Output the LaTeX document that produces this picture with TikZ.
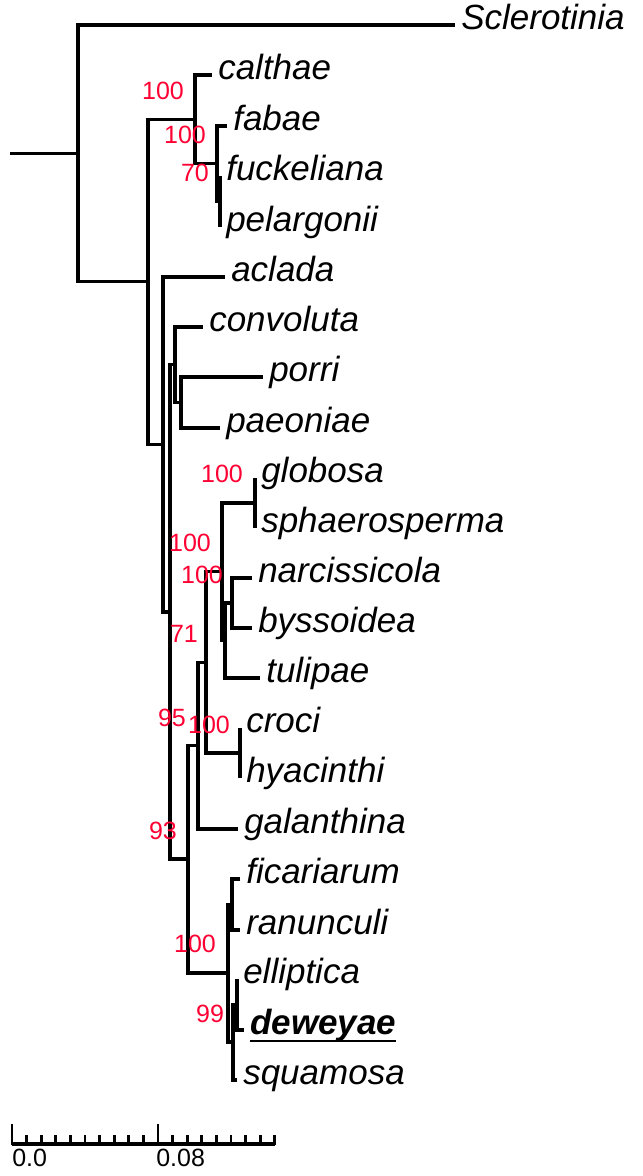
\documentclass[tikz,border=0pt]{standalone}
\usepackage{fontspec}
\setmainfont{Liberation Sans}
\definecolor{bsred}{RGB}{255,0,51}
\newcommand\tipfont{\fontsize{26.25}{30}\selectfont\itshape}
\newcommand\bsfont{\fontsize{18.75}{22}\selectfont}
\newcommand\myul[1]{\sbox0{#1}\rlap{\rule[-5.6pt]{\wd0}{1.8pt}}\usebox0}
\begin{document}
\begin{tikzpicture}[x=0.75pt,y=-0.75pt,
  br/.style={line width=2.4pt},
  tip/.style={anchor=west,font=\tipfont,inner xsep=4.5pt,inner ysep=0pt,text height=0.7em,text depth=0pt},
  bs/.style={text=bsred,font=\bsfont,inner sep=0pt,text height=0.72em,text depth=0pt},
  sc/.style={font=\bsfont,inner sep=0pt,text height=0.72em,text depth=0pt,anchor=west}]
\useasboundingbox (0,0) rectangle (642,1176);
% internal nodes
\coordinate (stub) at (10,153.5);
\coordinate (R) at (78,153.5);
\coordinate (Bot) at (148,281.9);
\coordinate (CA) at (195,119.4);
\coordinate (FA) at (217,163.8);
\coordinate (FP) at (220,201.5);
\coordinate (A) at (163,444.4);
\coordinate (B) at (170,611.9);
\coordinate (C) at (175,364.7);
\coordinate (D) at (181,402.5);
\coordinate (E) at (188,859);
\coordinate (F) at (198,745.7);
\coordinate (G) at (206,662.4);
\coordinate (H) at (222,571.8);
\coordinate (GS) at (255,503);
\coordinate (I) at (225,640.5);
\coordinate (J) at (232,603);
\coordinate (CH) at (240,753);
\coordinate (K) at (228,973);
\coordinate (L) at (232,904.5);
\coordinate (M) at (233,1042);
\coordinate (N) at (237,1004.5);
% tips
\node[tip] (Sclerotinia) at (455,25) {Sclerotinia};
\node[tip] (calthae) at (212,75) {calthae};
\node[tip] (fabae) at (227,126) {fabae};
\node[tip] (fuckeliana) at (220,176) {fuckeliana};
\node[tip] (pelargonii) at (220,227) {pelargonii};
\node[tip] (aclada) at (225,277) {aclada};
\node[tip] (convoluta) at (203,327) {convoluta};
\node[tip] (porri) at (263,377) {porri};
\node[tip] (paeoniae) at (220,428) {paeoniae};
\node[tip] (globosa) at (255,478) {globosa};
\node[tip] (sphaerosperma) at (255,528) {sphaerosperma};
\node[tip] (narcissicola) at (252,578) {narcissicola};
\node[tip] (byssoidea) at (252,628) {byssoidea};
\node[tip] (tulipae) at (260,678) {tulipae};
\node[tip] (croci) at (240,728) {croci};
\node[tip] (hyacinthi) at (240,778) {hyacinthi};
\node[tip] (galanthina) at (238,829) {galanthina};
\node[tip] (ficariarum) at (240,879) {ficariarum};
\node[tip] (ranunculi) at (240,930) {ranunculi};
\node[tip] (elliptica) at (237,979) {elliptica};
\node[tip] (deweyae) at (244,1030) {\myul{\bfseries deweyae}};
\node[tip] (squamosa) at (237,1080) {squamosa};
% branches
\draw[br] (stub) -- (R);
\foreach \p/\c in {R/Bot,Bot/CA,Bot/A,CA/FA,FA/FP,A/B,B/C,B/E,C/D,E/F,E/K,F/G,G/H,G/CH,H/GS,H/I,I/J,K/L,K/M,M/N}
  \draw[br] (\p) |- (\c);
\foreach \p/\c in {R/Sclerotinia,CA/calthae,FA/fabae,FP/fuckeliana,FP/pelargonii,A/aclada,C/convoluta,D/porri,D/paeoniae,F/galanthina,GS/globosa,GS/sphaerosperma,I/tulipae,J/narcissicola,J/byssoidea,CH/croci,CH/hyacinthi,L/ficariarum,L/ranunculi,M/squamosa,N/elliptica,N/deweyae}
  \draw[br] (\p) |- (\c.west);
% bootstrap values
\node[bs] (b1) at (163,95) {100};
\node[bs] (b2) at (185,139) {100};
\node[bs] (b3) at (195,177) {70};
\node[bs] (b4) at (222,478) {100};
\node[bs] (b5) at (190,547) {100};
\node[bs] (b6) at (202,579) {100};
\node[bs] (b7) at (184,638) {71};
\node[bs] (b8) at (172,722) {95};
\node[bs] (b9) at (209,729) {100};
\node[bs] (b10) at (163,835) {93};
\node[bs] (b11) at (195,948) {100};
\node[bs] (b12) at (210,1018) {99};
% scale bar
\coordinate (s0) at (12,1144);
\coordinate (s1) at (274.8,1144);
\draw[line width=2.6pt] (s0) -- (s1);
\foreach \i in {0,...,18}
  \draw[line width=2pt] ({12+\i*14.6},1145) -- ++(0,-10);
\foreach \i in {0,10}
  \draw[line width=2pt] ({12+\i*14.6},1145) -- ++(0,-21);
\node[sc] (l0) at (12,1162) {0.0};
\node[sc] (l1) at (156,1162) {0.08};
\end{tikzpicture}
\end{document}
